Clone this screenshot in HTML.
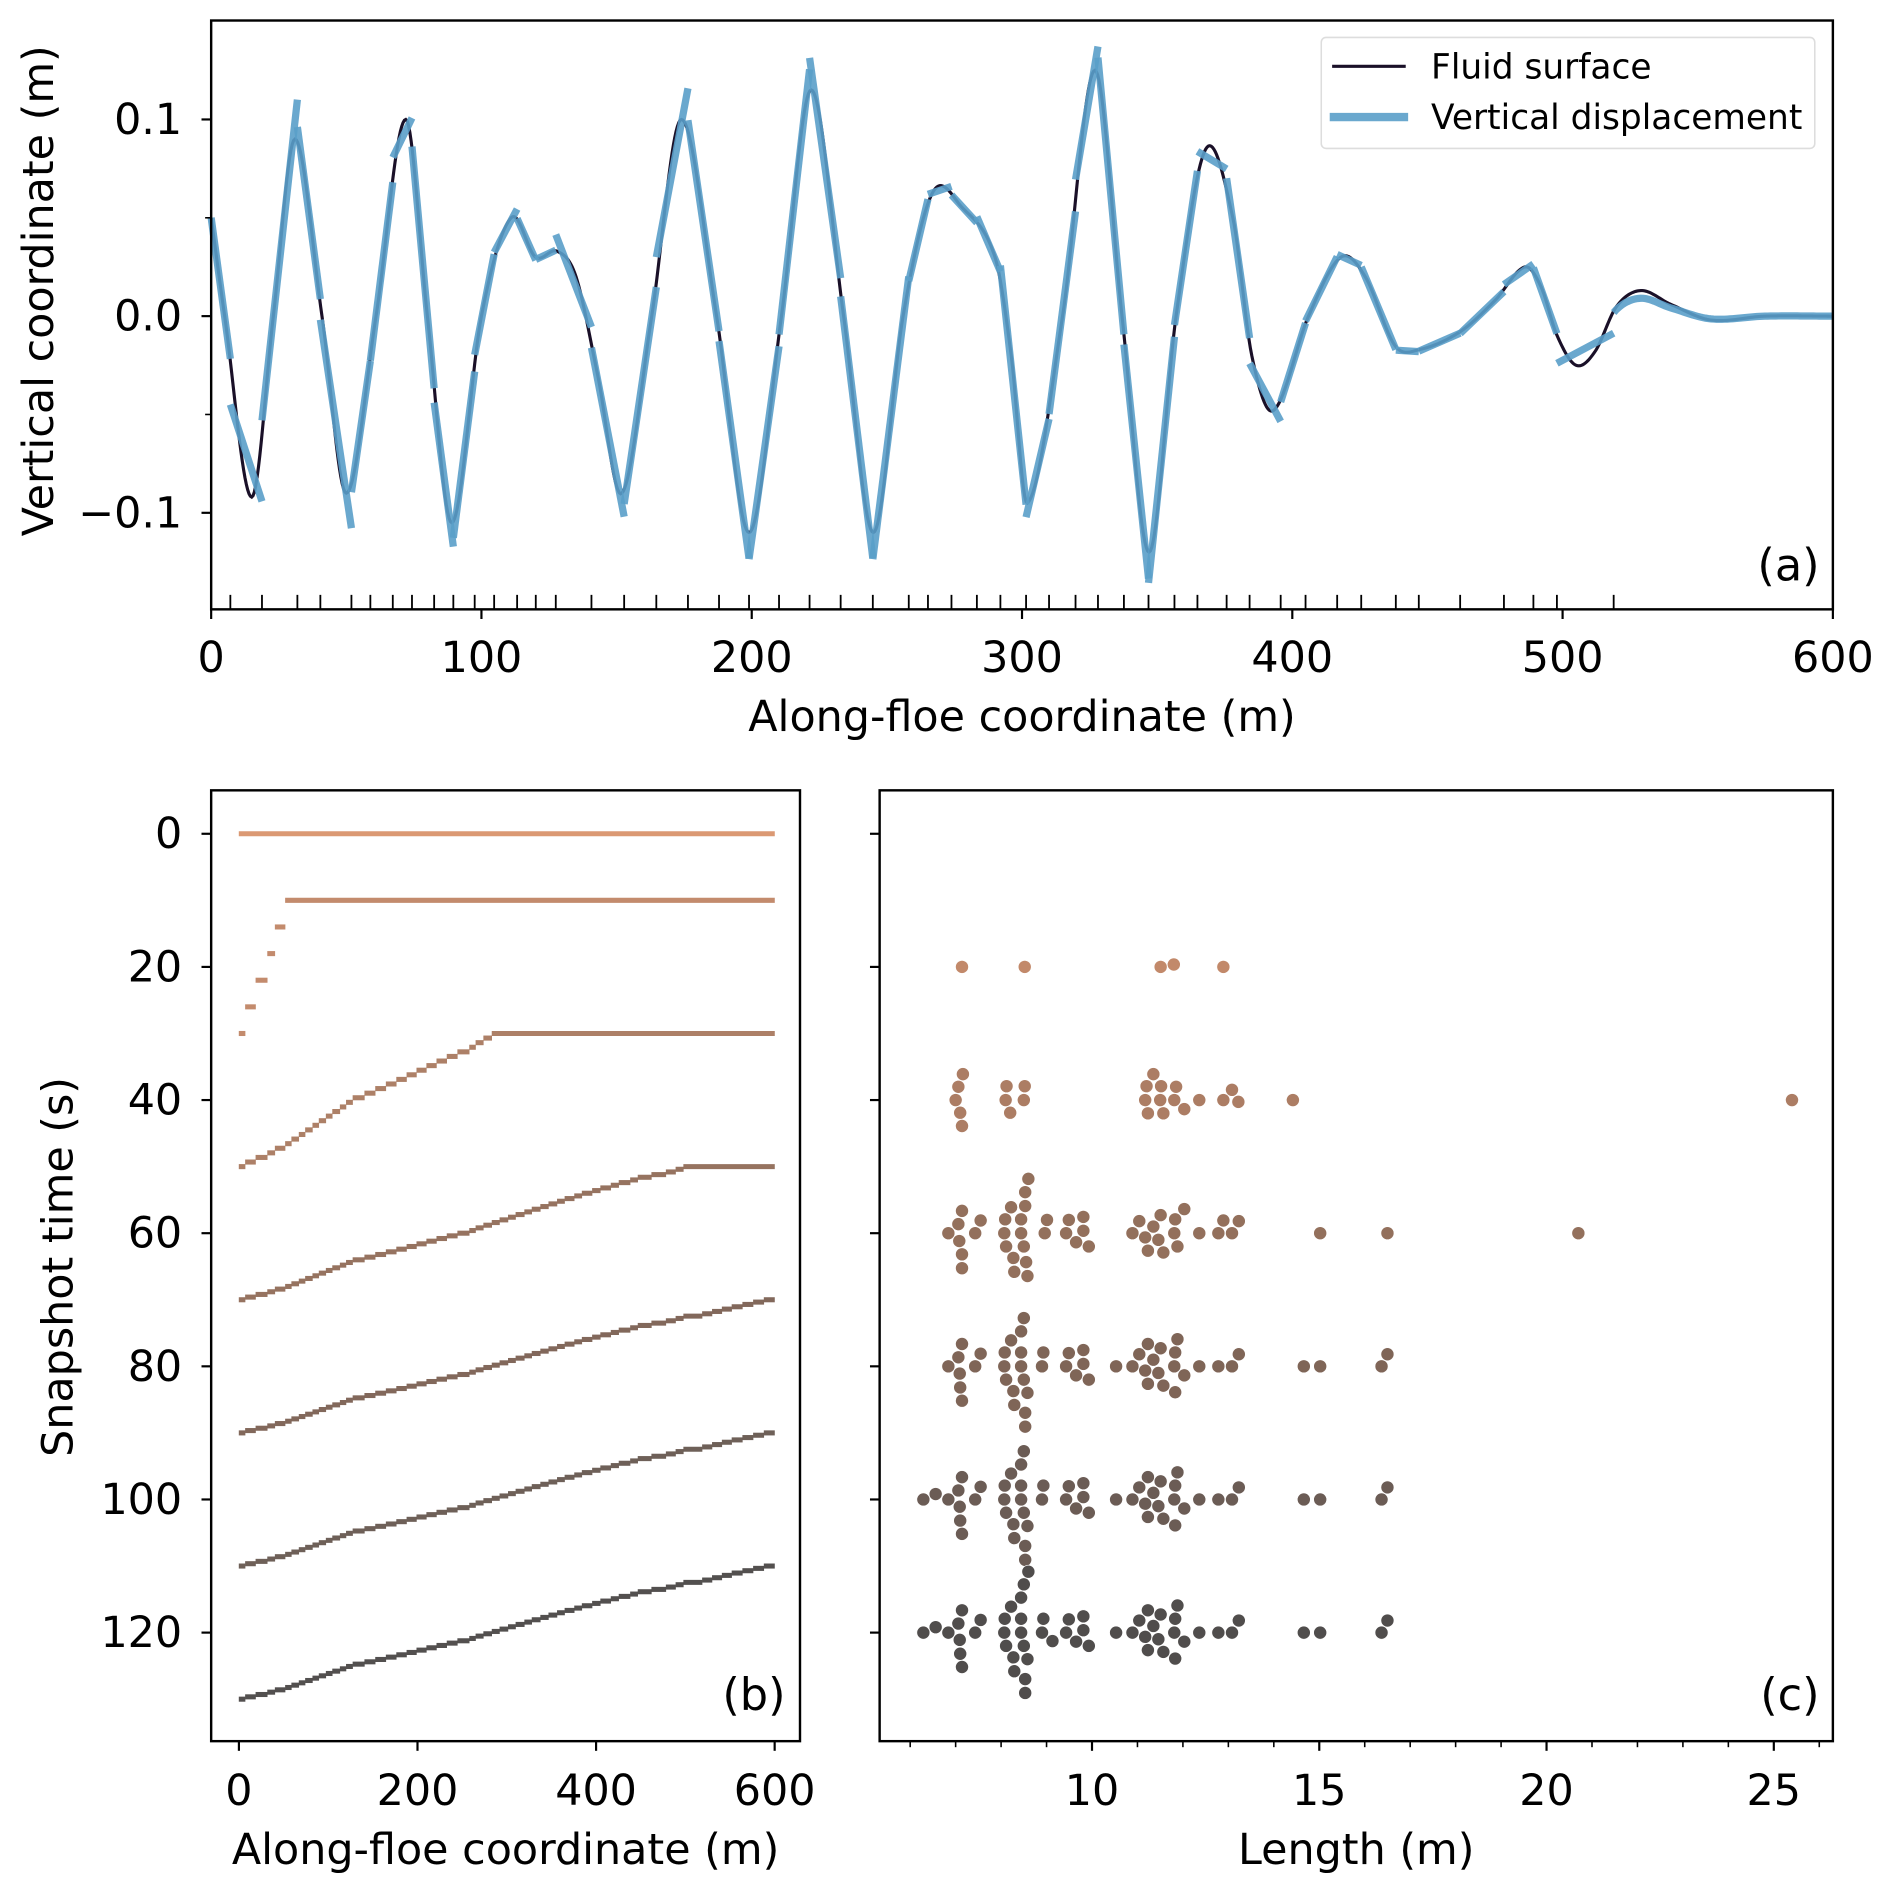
<!DOCTYPE html>
<html><head><meta charset="utf-8"><title>Floe fracture figure</title>
<style>
html,body{margin:0;padding:0;background:#fff;}
svg{display:block;font-family:"DejaVu Sans","Liberation Sans",sans-serif;}
</style></head>
<body>
<svg id="fig" width="1892" height="1895" viewBox="0 0 1568 1570.5" preserveAspectRatio="none" xmlns="http://www.w3.org/2000/svg">
<rect x="0" y="0" width="1568" height="1570.5" fill="#fff"/>
<g id="pa"></g>
<g id="pb"></g>
<g id="pc"></g>
</svg>
<script>
// ---------- Panel (a) data ----------
const surfX = [0,5,15,23,31,41,50,61,72,80,89,100,111,120,128,135,143,152,163,174,187,199,211,222,234,245,256,267,278,290,296,302,315,327,337,347,357,368,378,385,393,406,418,427,438,447,462,475,486,492,498,505,512,520,529,540,555,575,600];
const surfY = [0.05,0,-0.092,0,0.09,0,-0.09,0,0.10,0,-0.105,0,0.05,0.03,0.033,0.02,-0.03,-0.09,0,0.10,0,-0.11,0,0.115,0,-0.11,0,0.063,0.055,0.03,-0.02,-0.095,0,0.125,0,-0.12,0,0.085,0.05,-0.02,-0.048,0,0.03,0.02,-0.015,-0.017,-0.008,0.008,0.025,0.015,-0.01,-0.025,-0.018,0.005,0.013,0.006,-0.002,0.0,0];
const floeEdges = [0,7.1,18.8,31.9,40.4,51.9,58.9,67.2,74.3,82.5,89.6,97.5,104.7,113.2,120.1,127.5,140.7,152.8,164.7,176.4,187.9,199,210.1,221.4,232.9,244.8,258.1,265.2,273.9,283.3,292,301.5,310,319.8,328.1,337.7,346.8,356.4,364.9,375.7,384.2,395.7,404.9,416.6,425.5,438.3,446.8,462.1,478.3,489.2,497.9,518.9];
const xTicksA = [0,100,200,300,400,500,600];
const yTicksA = [-0.1,0.0,0.1];
const yTickLabelsA = ["\u22120.1","0.0","0.1"];
// ---------- Panel (b) data ----------
const snapTimes = [0,20,40,60,80,100,120];
const fractureFront = [0,52,284,498,600,600,600];
const extraEdges = [530,541,552,564,576,588];
const xTicksB = [0,200,400,600];
const yTicksB = [0,20,40,60,80,100,120];
// ---------- Panel (c) data ----------
const rowTimes = [20,40,60,80,100,120];
const len20 = [7.14,8.52,11.51,11.80,12.89];
const len40 = [7.0,7.06,7.1,7.14,7.16,8.1,8.12,8.2,8.5,8.52,11.17,11.2,11.23,11.35,11.5,11.52,11.57,11.81,11.85,12.03,12.36,12.89,13.08,13.22,14.42,25.4];
const len60 = [6.84,7.06,7.08,7.14,7.14,7.14,7.43,7.55,8.07,8.09,8.11,8.22,8.27,8.29,8.44,8.44,8.5,8.53,8.53,8.55,8.58,8.6,8.96,9.01,9.43,9.49,9.65,9.81,9.81,9.93,10.89,11.04,11.17,11.23,11.35,11.46,11.51,11.57,11.81,11.83,11.88,12.03,12.36,12.78,12.89,13.08,13.23,15.02,16.5,20.7];
const len80 = [6.84,7.06,7.09,7.1,7.14,7.14,7.43,7.55,8.07,8.08,8.11,8.22,8.27,8.29,8.44,8.44,8.44,8.5,8.5,8.53,8.53,8.58,8.90,8.93,9.43,9.49,9.65,9.81,9.81,9.93,10.53,10.89,11.04,11.17,11.23,11.23,11.35,11.46,11.51,11.57,11.81,11.83,11.83,11.88,12.03,12.36,12.78,13.08,13.23,14.66,15.02,16.37,16.5];
const len100 = [6.29,6.56,6.84,7.06,7.09,7.1,7.14,7.14,7.43,7.55,8.07,8.08,8.11,8.22,8.27,8.29,8.44,8.44,8.44,8.5,8.5,8.53,8.53,8.58,8.90,8.93,9.43,9.49,9.65,9.81,9.81,9.93,10.53,10.89,11.04,11.17,11.23,11.23,11.35,11.46,11.51,11.57,11.81,11.83,11.83,11.88,12.03,12.36,12.78,13.08,13.23,14.66,15.02,16.37,16.5];
const len120 = [6.29,6.56,6.84,7.06,7.09,7.1,7.14,7.14,7.43,7.55,8.07,8.08,8.11,8.22,8.27,8.29,8.44,8.44,8.44,8.5,8.5,8.53,8.53,8.58,8.6,8.90,8.93,9.13,9.43,9.49,9.65,9.81,9.81,9.93,10.53,10.89,11.04,11.17,11.23,11.23,11.35,11.46,11.51,11.57,11.81,11.83,11.83,11.88,12.03,12.36,12.78,13.08,13.23,14.66,15.02,16.37,16.5];
const xTicksC = [10,15,20,25];
const snapColors = ["#d9946c","#c08565","#a9795f","#906b57","#7b6052","#66574f","#4a4746"];

const NS = "http://www.w3.org/2000/svg";
function mk(tag, attrs, parent, txt){
  const e = document.createElementNS(NS, tag);
  for (const k in attrs) e.setAttribute(k, attrs[k]);
  if (txt !== undefined) e.textContent = txt;
  parent.appendChild(e); return e;
}
const FS = 35.5;

function tangents(X,Y){
  const n=X.length, m=new Array(n);
  for(let i=0;i<n;i++){
    if(i===0) m[i]=(Y[1]-Y[0])/(X[1]-X[0]);
    else if(i===n-1) m[i]=(Y[n-1]-Y[n-2])/(X[n-1]-X[n-2]);
    else m[i]=(Y[i+1]-Y[i-1])/(X[i+1]-X[i-1]);
  }
  return m;
}
const surfM = tangents(surfX, surfY);
function surf(x){
  let i=0; while(i<surfX.length-2 && x>surfX[i+1]) i++;
  const h=surfX[i+1]-surfX[i], t=(x-surfX[i])/h;
  const t2=t*t, t3=t2*t;
  return (2*t3-3*t2+1)*surfY[i]+(t3-2*t2+t)*h*surfM[i]+(-2*t3+3*t2)*surfY[i+1]+(t3-t2)*h*surfM[i+1];
}
function fitLine(a,b){
  const n=40; let sx=0,sy=0,sxx=0,sxy=0;
  for(let i=0;i<=n;i++){ const x=a+(b-a)*i/n, y=surf(x); sx+=x; sy+=y; sxx+=x*x; sxy+=x*y; }
  const N=n+1, k=(N*sxy-sx*sy)/(N*sxx-sx*sx), c=(sy-k*sx)/N;
  return [k*a+c, k*b+c];
}

// ---------- Panel (a) ----------
(function(){
  const g = document.getElementById('pa');
  const L=175,R=1519,T=17,B=505;
  const sx = v => L + v*(R-L)/600;
  const sy = v => 262 - v*1630;
  let d="";
  for(let x=0;x<=600;x+=0.5){ d += (x===0?"M":"L")+sx(x).toFixed(2)+","+sy(surf(x)).toFixed(2); }
  const fl = mk('path',{d:d,fill:'none',stroke:'#1a1028','stroke-width':2.6},g);
  
  
  const bg = mk('g',{},g);
  
  
  for(let i=0;i<floeEdges.length-1;i++){
    const a=floeEdges[i], b=floeEdges[i+1];
    const f=fitLine(a,b);
    const ln = mk('line',{x1:sx(a),y1:sy(f[0]),x2:sx(b),y2:sy(f[1]),stroke:'#5a9ec9','stroke-width':6,'stroke-opacity':0.9},bg);
    
    
  }
  let d2="";
  const last=floeEdges[floeEdges.length-1];
  for(let x=last;x<=600;x+=1){ d2 += (x===last?"M":"L")+sx(x).toFixed(2)+","+sy(surf(x)*0.7).toFixed(2); }
  const lp = mk('path',{d:d2,fill:'none',stroke:'#5a9ec9','stroke-width':6,'stroke-opacity':0.9},bg);
  
  
  mk('rect',{x:L,y:T,width:R-L,height:B-T,fill:'none',stroke:'#000','stroke-width':2},g);
  xTicksA.forEach(v=>{
    mk('line',{x1:sx(v),y1:B,x2:sx(v),y2:B+8,stroke:'#000','stroke-width':1.8},g);
    const t=mk('text',{x:sx(v),y:B+52,'font-size':FS,'text-anchor':'middle'},g,String(v));
    
    
  });
  floeEdges.forEach(v=>{ if(v>0) mk('line',{x1:sx(v),y1:B,x2:sx(v),y2:B-12,stroke:'#000','stroke-width':1.5},g); });
  yTicksA.forEach((v,i)=>{
    mk('line',{x1:L,y1:sy(v),x2:L-8,y2:sy(v),stroke:'#000','stroke-width':1.8},g);
    const t=mk('text',{x:151,y:sy(v)+12,'font-size':FS,'text-anchor':'end'},g,yTickLabelsA[i]);
    
    
  });
  [-0.05,0.05].forEach(v=>mk('line',{x1:L,y1:sy(v),x2:L-5,y2:sy(v),stroke:'#000','stroke-width':1.3},g));
  const xl=mk('text',{x:847,y:606,'font-size':FS,'text-anchor':'middle'},g,'Along-floe coordinate (m)');
  
  
  const yl=mk('text',{x:0,y:0,'font-size':FS,'text-anchor':'middle',transform:'translate(44,241) rotate(-90)'},g,'Vertical coordinate (m)');
  
  
  const pl=mk('text',{x:1508,y:481,'font-size':37,'text-anchor':'end'},g,'(a)');
  
  
  const lg=mk('g',{},g);
  
  
  mk('rect',{x:1095,y:31,width:409,height:92,rx:4,fill:'#fff','fill-opacity':0.85,stroke:'#ddd','stroke-width':1.3},lg);
  mk('line',{x1:1104,y1:55,x2:1165,y2:55,stroke:'#1a1028','stroke-width':2.6},lg);
  const e1=mk('text',{x:1186,y:65,'font-size':28.5},lg,'Fluid surface');
  
  
  mk('line',{x1:1102,y1:97,x2:1167,y2:97,stroke:'#5a9ec9','stroke-width':7,'stroke-opacity':0.9},lg);
  const e2=mk('text',{x:1186,y:107,'font-size':28.5},lg,'Vertical displacement');
  
  
})();

// ---------- Panel (b) ----------
(function(){
  const g = document.getElementById('pb');
  const L=175,R=663,T=655,B=1443;
  const sx = v => 198 + v*0.74;
  const sy = v => 691 + v*5.517;
  const master = floeEdges.concat(extraEdges);
  snapTimes.forEach((t,k)=>{
    const front = fractureFront[k];
    const edges=[0];
    master.forEach(b=>{ if(b>0 && b<=front && b<600) edges.push(b); });
    edges.push(600);
    const n = edges.length-1;
    const sg = mk('g',{},g);
    
    
    for(let i=0;i<n;i++){
      const y = n===1 ? t : t+10-20*i/(n-1);
      const ln = mk('line',{x1:sx(edges[i])+2,y1:sy(y),x2:sx(edges[i+1])-2,y2:sy(y),stroke:snapColors[k],'stroke-width':4.2,'stroke-linecap':'square','stroke-opacity':0.95},sg);
      
      
    }
  });
  mk('rect',{x:L,y:T,width:R-L,height:B-T,fill:'none',stroke:'#000','stroke-width':2},g);
  xTicksB.forEach(v=>{
    mk('line',{x1:sx(v),y1:B,x2:sx(v),y2:B+8,stroke:'#000','stroke-width':1.8},g);
    const t=mk('text',{x:sx(v),y:B+53,'font-size':FS,'text-anchor':'middle'},g,String(v));
    
    
  });
  yTicksB.forEach(v=>{
    mk('line',{x1:L,y1:sy(v),x2:L-8,y2:sy(v),stroke:'#000','stroke-width':1.8},g);
    const t=mk('text',{x:151,y:sy(v)+12,'font-size':FS,'text-anchor':'end'},g,String(v));
    
    
  });
  const xl=mk('text',{x:419,y:1545,'font-size':FS,'text-anchor':'middle'},g,'Along-floe coordinate (m)');
  
  
  const yl=mk('text',{x:0,y:0,'font-size':FS,'text-anchor':'middle',transform:'translate(60,1050) rotate(-90)'},g,'Snapshot time (s)');
  
  
  const pl=mk('text',{x:651,y:1417,'font-size':37,'text-anchor':'end'},g,'(b)');
  
  
})();

// ---------- Panel (c) ----------
(function(){
  const g = document.getElementById('pc');
  const L=729,R=1519,T=655,B=1443;
  const sx = v => 905 + (v-10)*37.67;
  const sy = v => 691 + v*5.517;
  const rows=[len20,len40,len60,len80,len100,len120];
  const r=5.4, D=2*r+0.3;
  rows.forEach((vals,k)=>{
    const t=rowTimes[k];
    const cy=sy(t);
    const rg=mk('g',{},g);
    
    
    const sorted=vals.slice().sort((a,b)=>a-b);
    const placed=[];
    sorted.forEach(v=>{
      const px=sx(v);
      let off=0;
      for(let s=0;s<400;s++){
        const cand = (s%2===0?1:-1)*Math.ceil(s/2)*0.5;
        let ok=true;
        for(const p of placed){ const dx=p[0]-px, dy=p[1]-cand; if(dx*dx+dy*dy<D*D){ok=false;break;} }
        if(ok){off=cand;break;}
      }
      placed.push([px,off]);
      const c=mk('circle',{cx:px,cy:cy+off,r:r,fill:snapColors[k+1],stroke:'#fff','stroke-width':0.5,'fill-opacity':0.97},rg);
      
      
    });
  });
  mk('rect',{x:L,y:T,width:R-L,height:B-T,fill:'none',stroke:'#000','stroke-width':2},g);
  for(let v=6;v<=26;v++){ if(v%5!==0) mk('line',{x1:sx(v),y1:B,x2:sx(v),y2:B+5,stroke:'#000','stroke-width':1.3},g); }
  xTicksC.forEach(v=>{
    mk('line',{x1:sx(v),y1:B,x2:sx(v),y2:B+8,stroke:'#000','stroke-width':1.8},g);
    const t=mk('text',{x:sx(v),y:B+53,'font-size':FS,'text-anchor':'middle'},g,String(v));
    
    
  });
  yTicksB.forEach(v=>mk('line',{x1:L,y1:sy(v),x2:L-8,y2:sy(v),stroke:'#000','stroke-width':1.8},g));
  const xl=mk('text',{x:1124,y:1545,'font-size':FS,'text-anchor':'middle'},g,'Length (m)');
  
  
  const pl=mk('text',{x:1508,y:1417,'font-size':37,'text-anchor':'end'},g,'(c)');
  
  
})();
</script>
</body></html>
